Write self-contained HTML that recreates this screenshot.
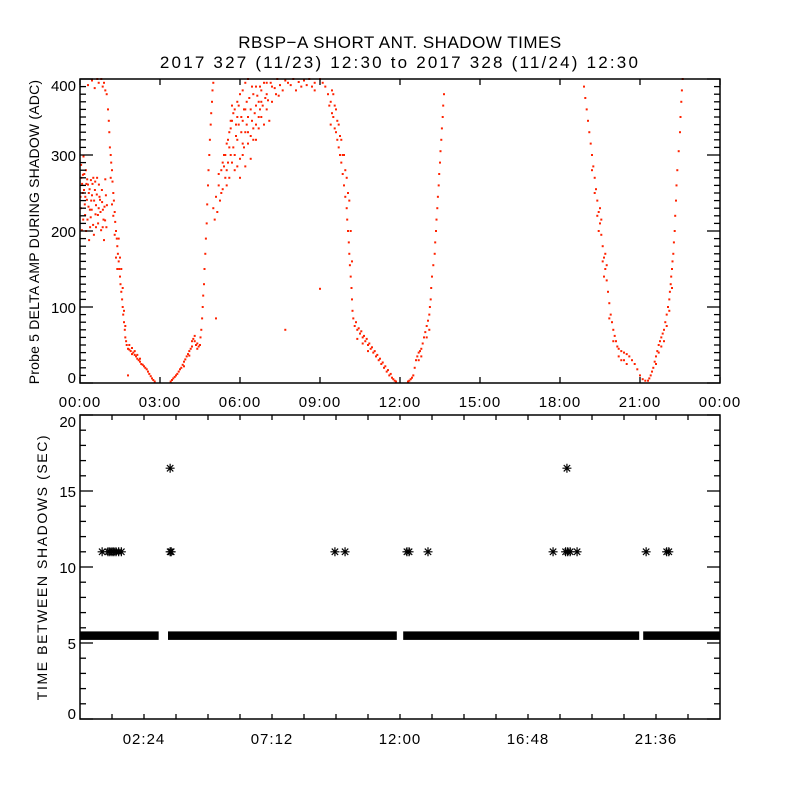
<!DOCTYPE html>
<html><head><meta charset="utf-8"><style>
html,body{margin:0;padding:0;background:#fff;}
svg{display:block;font-family:"Liberation Sans",sans-serif;}
</style></head><body>
<svg id="chart" width="800" height="800" viewBox="0 0 800 800" xmlns="http://www.w3.org/2000/svg">
<rect width="800" height="800" fill="#fff"/>
<text x="400" y="48" font-size="17" text-anchor="middle" letter-spacing="0.5">RBSP−A SHORT ANT. SHADOW TIMES</text>
<text x="400" y="68" font-size="17" text-anchor="middle" letter-spacing="2.2">2017 327 (11/23) 12:30 to 2017 328 (11/24) 12:30</text>
<text transform="translate(39,232) rotate(-90)" font-size="14" text-anchor="middle" letter-spacing="0.2">Probe 5 DELTA AMP DURING SHADOW (ADC)</text>
<text transform="translate(47,567) rotate(-90)" font-size="14" text-anchor="middle" letter-spacing="1.6">TIME BETWEEN SHADOWS (SEC)</text>
<g id="topPanel"></g>
<g id="botPanel"></g>
</svg>
<script>
// ---- top panel data: [hour, ADC]
const ampCloud1 = [[0.04,287],[0.11,274],[0.15,254],[0.22,280],[0.26,241],[0.30,261],[0.37,228],[0.41,267],[0.45,247],[0.49,208],[0.56,254],[0.60,234],[0.64,270],[0.67,221],[0.75,241],[0.79,201],[0.82,254],[0.86,228],[0.94,214],[0.97,247],[0.07,201],[0.19,221],[0.34,188],[0.52,195],[0.71,261],[0.90,188],[1.01,234],[0.08,262],[0.18,235],[0.28,215],[0.42,240],[0.5,270],[0.6,205],[0.7,230],[0.13,298],[0.33,250],[0.85,205],[0.95,268],[0.02,245],[0.24,262],[0.58,222],[0.38,205],[0.3,392],[0.45,398],[0.55,388],[0.65,400],[0.7,395],[1.8,10],[0.05,270],[0.1,250],[0.16,275],[0.2,245],[0.27,268],[0.32,232],[0.36,255],[0.4,218],[0.47,262],[0.53,240],[0.57,265],[0.63,248],[0.68,210],[0.73,245],[0.77,225],[0.83,238],[0.88,215],[0.92,232],[0.99,205],[0.03,230],[0.12,215],[0.23,200],[0.44,228]];
const ampSeg1 = [[0.8,400],[0.85,390],[0.9,395],[0.95,385],[1.0,380],[1.05,360],[1.08,345],[1.1,330],[1.12,310],[1.15,300],[1.17,290],[1.2,280],[1.22,265],[1.25,250],[1.27,240],[1.3,225],[1.32,212],[1.35,200],[1.38,190],[1.4,180],[1.42,170],[1.45,160],[1.47,150],[1.5,140],[1.52,130],[1.55,120],[1.58,110],[1.6,100],[1.62,90],[1.65,80],[1.68,70],[1.7,60],[1.73,55],[1.75,50],[1.35,165],[1.45,190],[1.25,220],[1.55,150],[1.15,270],[1.6,125],[1.8,45],[1.85,44],[1.9,42],[1.95,38],[2.0,40],[2.05,37],[2.1,35],[2.15,32],[2.2,30],[2.25,28],[2.3,25],[2.35,24],[2.4,22],[2.45,20],[2.5,18],[2.55,15],[2.6,12],[2.65,9],[2.7,6],[2.75,4],[2.8,2],[1.85,50],[1.95,46],[2.05,42],[2.15,37],[2.25,32],[1.4,150],[1.5,165],[1.3,195],[1.2,235],[1.65,95],[1.7,75]];
const ampSeg2 = [[3.4,2],[3.45,4],[3.5,6],[3.55,8],[3.6,10],[3.65,12],[3.7,15],[3.75,18],[3.8,20],[3.85,24],[3.9,28],[3.95,31],[4.0,35],[4.05,38],[4.1,42],[4.15,45],[4.2,48],[4.25,58],[4.3,55],[4.35,50],[4.4,45],[4.45,48],[4.5,50],[4.52,60],[4.55,70],[4.58,85],[4.6,100],[4.62,115],[4.65,130],[4.67,150],[4.7,170],[4.72,190],[4.75,210],[4.77,235],[4.8,260],[4.82,280],[4.85,300],[4.87,320],[4.9,340],[4.92,355],[4.95,370],[4.97,385],[5.0,395],[4.2,55],[4.3,62],[4.4,52],[4.1,36],[3.9,22]];
const ampCloud2 = [[5.0,230],[5.05,215],[5.1,245],[5.15,225],[5.2,260],[5.25,240],[5.3,280],[5.35,255],[5.4,300],[5.45,270],[5.5,315],[5.55,290],[5.6,330],[5.65,300],[5.7,345],[5.75,310],[5.8,360],[5.85,325],[5.9,370],[5.95,340],[6.0,380],[6.05,350],[6.1,385],[6.15,360],[6.2,395],[6.25,370],[6.3,400],[5.4,285],[5.6,310],[5.8,300],[6.0,270],[6.1,300],[6.2,330],[6.3,315],[6.4,295],[6.5,320],[6.6,340],[6.7,335],[6.8,350],[6.9,340],[7.0,360],[7.1,345],[6.4,360],[6.5,380],[6.6,390],[6.7,370],[6.8,385],[6.9,395],[7.0,380],[7.2,390],[7.4,400],[7.6,385],[7.8,395],[8.0,400],[8.3,390],[8.6,400],[8.8,395],[9.0,400],[5.7,365],[5.9,350],[6.1,345],[6.3,350],[5.5,260],[5.9,285],[6.2,360],[6.6,365],[7.2,370],[7.5,392],[8.2,396],[8.8,385],[5.35,290],[5.65,335],[6.45,345],[6.75,360],[7.05,372],[7.35,380],[7.7,398],[8.5,392],[9.1,395],[9.0,124],[7.7,70],[5.1,85],[5.2,275],[5.3,250],[5.45,300],[5.55,320],[5.65,345],[5.75,355],[5.85,340],[5.95,365],[6.05,330],[6.15,310],[6.25,340],[6.35,375],[6.45,390],[6.55,355],[6.65,378],[6.75,390],[6.85,365],[6.95,375],[7.15,395],[7.3,388],[7.45,378],[7.9,392],[8.1,385],[8.4,398],[8.7,390],[5.5,280],[5.6,270],[5.8,280],[6.0,295],[6.2,285],[6.1,315],[5.7,290],[5.9,320],[6.3,330],[6.5,335],[6.7,350],[6.4,325],[6.6,320],[6.8,370],[7.0,395]];
const ampSeg3 = [[9.2,390],[9.3,380],[9.35,365],[9.4,370],[9.45,355],[9.5,350],[9.55,335],[9.6,330],[9.65,320],[9.7,310],[9.75,300],[9.8,290],[9.85,275],[9.9,260],[9.95,245],[10.0,230],[10.02,215],[10.05,200],[10.08,185],[10.1,170],[10.12,155],[10.15,140],[10.18,125],[10.2,110],[10.22,95],[10.25,85],[9.5,380],[9.6,360],[9.7,340],[9.9,300],[10.0,270],[10.1,240],[9.4,340],[9.8,320],[10.2,160],[10.3,75],[10.35,80],[10.4,70],[10.45,72],[10.5,65],[10.55,68],[10.6,60],[10.65,62],[10.7,55],[10.75,58],[10.8,50],[10.85,52],[10.9,45],[10.95,47],[11.0,40],[11.05,42],[11.1,35],[11.15,37],[11.2,30],[11.25,32],[11.3,25],[11.35,27],[11.4,20],[11.45,22],[11.5,15],[11.55,17],[11.6,10],[11.65,12],[11.7,7],[11.75,5],[11.8,3],[11.85,2],[10.4,58],[10.6,52],[10.8,42],[9.45,385],[9.55,365],[9.65,345],[9.75,325],[9.85,300],[9.95,280],[10.05,250],[10.15,200]];
const ampSeg4 = [[12.3,2],[12.35,3],[12.4,5],[12.45,7],[12.5,10],[12.55,20],[12.6,30],[12.65,35],[12.7,40],[12.75,42],[12.8,45],[12.85,52],[12.9,60],[12.95,67],[13.0,75],[13.05,82],[13.1,90],[13.12,100],[13.15,110],[13.17,125],[13.2,140],[13.25,155],[13.3,170],[13.32,185],[13.35,200],[13.37,215],[13.4,230],[13.42,245],[13.45,260],[13.47,275],[13.5,290],[13.52,305],[13.55,320],[13.57,335],[13.6,350],[13.62,365],[13.65,380],[12.7,30],[12.8,35],[13.0,60],[13.1,70]];
const ampSeg5 = [[18.9,390],[18.95,375],[19.0,360],[19.05,345],[19.1,330],[19.15,315],[19.2,300],[19.25,285],[19.3,270],[19.35,255],[19.4,240],[19.45,225],[19.5,210],[19.55,195],[19.6,180],[19.65,165],[19.7,150],[19.75,135],[19.8,120],[19.85,105],[19.9,90],[19.95,80],[20.0,70],[20.05,62],[20.1,55],[19.3,250],[19.4,220],[19.5,230],[19.6,160],[19.7,170],[19.2,280],[20.15,48],[20.2,45],[20.3,42],[20.4,40],[20.5,38],[20.6,35],[20.7,30],[20.8,25],[20.9,18],[21.0,10],[21.1,5],[21.2,3],[20.3,30],[20.5,25],[19.45,200],[19.55,215],[19.65,140],[19.75,155],[19.85,85],[20.0,55],[20.2,35],[20.4,30]];
const ampSeg6 = [[21.3,3],[21.35,6],[21.4,10],[21.45,15],[21.5,20],[21.55,28],[21.6,35],[21.65,42],[21.7,50],[21.75,55],[21.8,60],[21.85,65],[21.9,70],[21.95,80],[22.0,90],[22.05,100],[22.1,110],[22.12,120],[22.15,130],[22.17,140],[22.2,150],[22.22,160],[22.25,170],[22.27,185],[22.3,200],[22.32,220],[22.35,240],[22.37,260],[22.4,280],[22.45,305],[22.5,330],[22.52,350],[22.55,370],[22.57,385],[22.6,400],[21.6,25],[21.7,40],[21.8,48],[21.9,55],[22.0,75],[22.1,95],[22.2,125]];
const topXTickLabels = ["00:00","03:00","06:00","09:00","12:00","15:00","18:00","21:00","00:00"];
const topYTickLabels = ["0","100","200","300","400"];
// ---- bottom panel data
const bandStarts = [0.0, 3.3, 12.12, 21.12];
const bandEnds = [2.95, 11.88, 20.97, 24.0];
const bandValue = 5.5;
const starHours = [0.83,1.05,1.12,1.2,1.27,1.35,1.45,1.55,3.38,3.42,9.56,9.94,12.26,12.34,13.05,17.74,18.21,18.29,18.38,18.64,21.23,22.0,22.08,3.38,18.26];
const starValues = [11,11,11,11,11,11,11,11,11,11,11,11,11,11,11,11,11,11,11,11,11,11,11,16.5,16.5];
const botXTickLabels = ["02:24","07:12","12:00","16:48","21:36"];
const botYTickLabels = ["0","5","10","15","20"];

const NS="http://www.w3.org/2000/svg";
function mk(parent,tag,attrs){const e=document.createElementNS(NS,tag);for(const k in attrs)e.setAttribute(k,attrs[k]);parent.appendChild(e);return e;}
const L=80,R=720;
const T1=79,B1=383,T2=415,B2=719;
const xs=h=>L+(h/24)*(R-L);
const y1=v=>B1-(v/400)*(B1-T1);
const y2=v=>B2-(v/20)*(B2-T2);

// top panel
const topG=document.getElementById('topPanel');
const pts=mk(topG,'g',{fill:'#ff2200'});


[ampCloud1,ampSeg1,ampSeg2,ampCloud2,ampSeg3,ampSeg4,ampSeg5,ampSeg6].forEach(s=>s.forEach(p=>{
  const r=mk(pts,'rect',{x:(xs(p[0])-1).toFixed(1),y:(y1(p[1])-1).toFixed(1),width:2,height:2});
  
  
}));
const f1=mk(topG,'rect',{x:L,y:T1,width:R-L,height:B1-T1,fill:'none',stroke:'#000','stroke-width':1.5});


const ax=mk(topG,'g',{stroke:'#000','stroke-width':1.3});


topXTickLabels.forEach((lab,i)=>{
  const x=xs(i*3);
  mk(ax,'line',{x1:x,x2:x,y1:B1,y2:B1-6});
  mk(ax,'line',{x1:x,x2:x,y1:T1,y2:T1+6});
  const t=mk(topG,'text',{x:x,y:B1+24,'font-size':15,'text-anchor':'middle','letter-spacing':1});
  t.textContent=lab;
  
  
});
for(let v=0;v<=400;v+=10){
  const y=y1(v),len=(v%100===0)?13:6;
  mk(ax,'line',{x1:L,x2:L+len,y1:y,y2:y});
  mk(ax,'line',{x1:R,x2:R-len,y1:y,y2:y});
}
topYTickLabels.forEach((lab,i)=>{
  let y=y1(i*100)+6; if(i===0)y-=6; if(i===4)y+=6;
  const t=mk(topG,'text',{x:L-4,y:y,'font-size':15,'text-anchor':'end'});
  t.textContent=lab;
  
  
});

// bottom panel
const botG=document.getElementById('botPanel');
bandStarts.forEach((s,i)=>{
  const r=mk(botG,'rect',{x:xs(s),y:y2(bandValue)-4,width:xs(bandEnds[i])-xs(s),height:8.5,fill:'#000'});
  
  
});
starHours.forEach((h,i)=>{
  const cx=xs(h),cy=y2(starValues[i]),r=4.5,d=3.2;
  const p=mk(botG,'path',{d:`M${cx-r},${cy}H${cx+r}M${cx},${cy-r}V${cy+r}M${cx-d},${cy-d}L${cx+d},${cy+d}M${cx-d},${cy+d}L${cx+d},${cy-d}`,stroke:'#000','stroke-width':1.2,fill:'none'});
  
  
});
const f2=mk(botG,'rect',{x:L,y:T2,width:R-L,height:B2-T2,fill:'none',stroke:'#000','stroke-width':1.5});


const ax2=mk(botG,'g',{stroke:'#000','stroke-width':1.3});


for(let k=1;k<20;k++){
  const x=xs(k*1.2);
  mk(ax2,'line',{x1:x,x2:x,y1:B2,y2:B2-5});
  mk(ax2,'line',{x1:x,x2:x,y1:T2,y2:T2+5});
}
botXTickLabels.forEach((lab,i)=>{
  const t=mk(botG,'text',{x:xs(2.4+i*4.8),y:B2+25,'font-size':15,'text-anchor':'middle','letter-spacing':1});
  t.textContent=lab;
  
  
});
for(let v=0;v<=20;v++){
  const y=y2(v),len=(v%5===0)?13:6;
  mk(ax2,'line',{x1:L,x2:L+len,y1:y,y2:y});
  mk(ax2,'line',{x1:R,x2:R-len,y1:y,y2:y});
}
botYTickLabels.forEach((lab,i)=>{
  let y=y2(i*5)+6; if(i===0)y-=6; if(i===4)y+=6;
  const t=mk(botG,'text',{x:L-4,y:y,'font-size':15,'text-anchor':'end'});
  t.textContent=lab;
  
  
});
</script>
</body></html>
